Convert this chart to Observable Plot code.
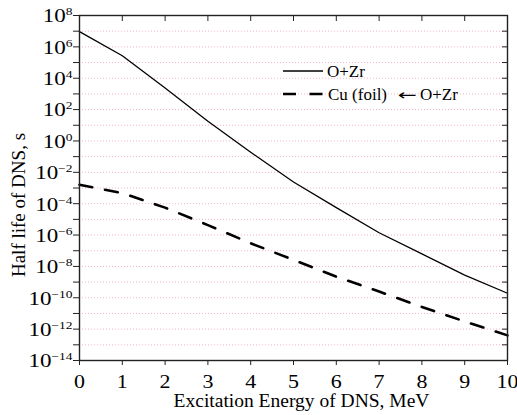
<!DOCTYPE html>
<html><head><meta charset="utf-8">
<script src="https://cdn.jsdelivr.net/npm/d3@7"></script>
<script src="https://cdn.jsdelivr.net/npm/@observablehq/plot@0.6"></script>
<style>
body{margin:0;background:#fff;}
#wrap{position:relative;width:517px;height:415px;font-family:"Liberation Serif","Times New Roman",serif;}
#legend{position:absolute;left:0;top:0;pointer-events:none;}
</style></head><body><div id="wrap"></div>
<script>
// Excitation energy of DNS, MeV
const energy = [0, 1, 2, 3, 4, 5, 6, 7, 8, 9, 10];
// Half life of DNS, s : O+Zr
const halfLifeOZr = [9.3e6, 2.7e5, 2.4e3, 1.8e1, 1.9e-1, 2.4e-3, 5.6e-5, 1.4e-6, 6.3e-8, 2.8e-9, 1.95e-10];
// Half life of DNS, s : Cu (foil) <- O+Zr
const halfLifeCu = [1.6e-3, 4.7e-4, 5.6e-5, 4.3e-6, 3.0e-7, 2.6e-8, 2.2e-9, 2.5e-10, 2.6e-11, 3.1e-12, 4.0e-13];
const seriesNames = ["O+Zr", "Cu (foil)", "\u2190", "O+Zr"];
const xTicks = [0, 1, 2, 3, 4, 5, 6, 7, 8, 9, 10];
const yTickExps = [-14, -13, -12, -11, -10, -9, -8, -7, -6, -5, -4, -3, -2, -1, 0, 1, 2, 3, 4, 5, 6, 7, 8];
const yLabelExps = [-14, -12, -10, -8, -6, -4, -2, 0, 2, 4, 6, 8];
const xTitle = "Excitation Energy of DNS, MeV";
const yTitle = "Half life of DNS, s";

const FONT = '"Liberation Serif","Times New Roman",serif';
const rowsOZr = energy.map((e, i) => ({e, t: halfLifeOZr[i]}));
const rowsCu = energy.map((e, i) => ({e, t: halfLifeCu[i]}));
const yTicks = yTickExps.map(k => Math.pow(10, k));
const gridVals = yTicks.slice(1, -1);
const expOf = v => Math.round(Math.log10(v));
const axisColor = "#222";

const chart = Plot.plot({
  width: 517, height: 415,
  marginLeft: 79, marginRight: 10, marginTop: 15, marginBottom: 55,
  style: {fontFamily: FONT, fontSize: "18px", color: "#000", background: "#fff"},
  x: {domain: [0, 10]},
  y: {type: "log", domain: [1e-14, 1e8]},
  marks: [
    Plot.gridY(gridVals, {stroke: "#f4b4c5", strokeOpacity: 1, strokeDasharray: "1,2", strokeWidth: 1}),
    Plot.axisY(yTicks, {anchor: "left", tickSize: 6, tickPadding: 1, stroke: axisColor,
      tickFormat: v => yLabelExps.includes(expOf(v)) ? "10^" + expOf(v) : "",
      label: yTitle, labelAnchor: "center", labelArrow: "none", labelOffset: 68, fontSize: 18}),
    Plot.axisY(yTicks, {anchor: "right", tickSize: 6, dx: -6, stroke: axisColor, tickFormat: () => "", label: null}),
    Plot.axisX(xTicks, {anchor: "bottom", tickSize: 5, tickPadding: 9.5, stroke: axisColor, tickFormat: d => String(d),
      label: xTitle, labelAnchor: "center", labelArrow: "none", labelOffset: 50, fontSize: 18}),
    Plot.axisX(xTicks, {anchor: "top", tickSize: 5, dy: 5, stroke: axisColor, tickFormat: () => "", label: null}),
    Plot.lineY(rowsCu, {x: "e", y: "t", stroke: "#000", strokeWidth: 2.6, strokeDasharray: "13,13"}),
    Plot.lineY(rowsOZr, {x: "e", y: "t", stroke: "#000", strokeWidth: 1.3}),
    Plot.frame({stroke: axisColor, strokeWidth: 1.4})
  ]
});
document.getElementById("wrap").appendChild(chart);

const NS = "http://www.w3.org/2000/svg";
chart.querySelectorAll("text").forEach(t => t.setAttribute("font-family", FONT));
// superscript exponents on the y tick labels, slightly widened like the original typeface
chart.querySelectorAll('g[aria-label="y-axis tick label"] text').forEach(t => {
  const s = t.textContent;
  if (!s.includes("^")) return;
  const [b, e] = s.split("^");
  t.textContent = "";
  const t1 = document.createElementNS(NS, "tspan"); t1.textContent = b;
  const t2 = document.createElementNS(NS, "tspan");
  t2.setAttribute("dy", "-7"); t2.setAttribute("font-size", "10.5px");
  t2.textContent = e.replace("-", "\u2212");
  t.append(t1, t2);
  t.setAttribute("y", "0.38em");
  t.setAttribute("transform", (t.getAttribute("transform") || "") + " scale(1.28,1)");
});
chart.querySelectorAll('g[aria-label="x-axis tick label"] text').forEach(t => {
  t.setAttribute("transform", (t.getAttribute("transform") || "") + " scale(1.22,1)");
});
// axis titles
chart.querySelectorAll('[aria-label="x-axis label"]').forEach(g => {
  g.removeAttribute("transform");
  g.setAttribute("text-anchor", "middle");
  g.querySelectorAll("text").forEach(t => {
    t.setAttribute("transform", "translate(301.5,406.5)");
    t.removeAttribute("dy"); t.removeAttribute("y"); t.removeAttribute("x");
    t.setAttribute("font-size", "19.5px");
  });
});
chart.querySelectorAll('[aria-label="y-axis label"]').forEach(g => {
  g.removeAttribute("transform");
  g.setAttribute("text-anchor", "middle");
  g.querySelectorAll("text").forEach(t => {
    t.setAttribute("transform", "translate(24.5,205) rotate(-90)");
    t.removeAttribute("dy"); t.removeAttribute("y"); t.removeAttribute("x");
    t.setAttribute("font-size", "19px");
  });
});

// legend overlay
const leg = d3.select("#wrap").append("svg").attr("id", "legend").attr("width", 517).attr("height", 415)
  .attr("font-family", FONT).attr("font-size", 17);
leg.append("line").attr("x1", 283).attr("x2", 323).attr("y1", 71).attr("y2", 71).attr("stroke", "#000").attr("stroke-width", 1.3);
leg.append("text").attr("x", 327).attr("y", 77).text(seriesNames[0]);
leg.append("line").attr("x1", 283).attr("x2", 323).attr("y1", 94).attr("y2", 94).attr("stroke", "#000").attr("stroke-width", 2.6).attr("stroke-dasharray", "13,13.5");
leg.append("text").attr("x", 328).attr("y", 100).text(seriesNames[1]);
leg.append("text").attr("x", 397.5).attr("y", 100).attr("font-family", '"DejaVu Sans",sans-serif').attr("font-size", 15)
  .attr("textLength", 19).attr("lengthAdjust", "spacingAndGlyphs").text(seriesNames[2]);
leg.append("text").attr("x", 420).attr("y", 100).text(seriesNames[3]);
</script></body></html>
